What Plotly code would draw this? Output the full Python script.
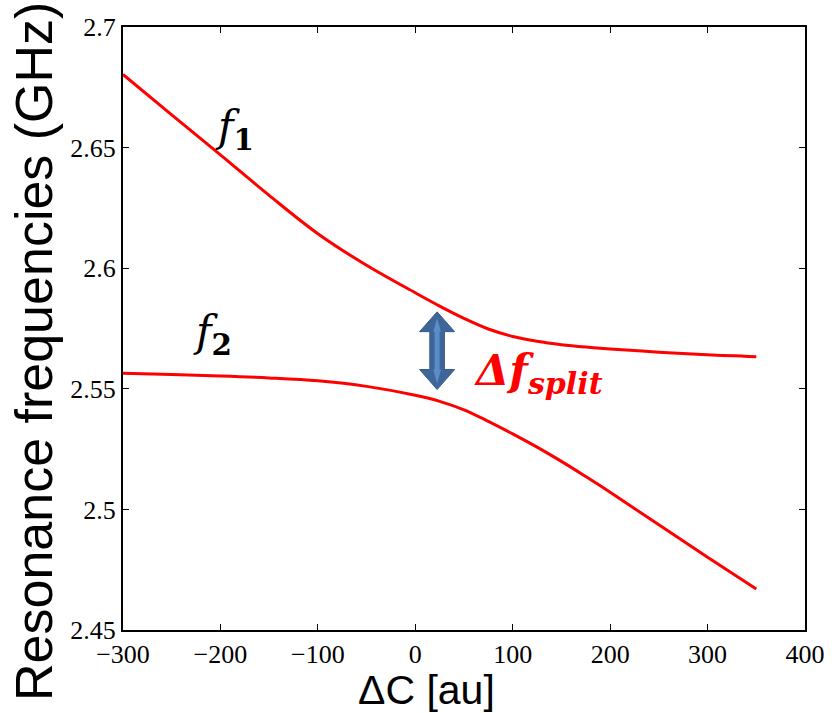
import plotly.graph_objects as go

# Data
dC = [-300, -250, -200, -150, -100, -50, 0, 25, 50, 75, 100, 125, 150, 175, 200, 250, 300, 350]
f1 = [2.6803, 2.6636, 2.6470, 2.6302, 2.6143, 2.6012, 2.5898, 2.5843, 2.5792, 2.5748, 2.5717,
      2.5697, 2.5683, 2.5673, 2.5665, 2.5652, 2.5641, 2.5633]
f2 = [2.5564, 2.5559, 2.5553, 2.5545, 2.5533, 2.5510, 2.5473, 2.5448, 2.5413, 2.5365, 2.5313,
      2.5258, 2.5199, 2.5136, 2.5071, 2.4936, 2.4802, 2.4670]

x_ticks = [-300, -200, -100, 0, 100, 200, 300, 400]
y_ticks = [2.45, 2.5, 2.55, 2.6, 2.65, 2.7]

RED = "#ff0000"
SERIF = "'Liberation Serif', 'Times New Roman', Times, serif"
SANS = "'Liberation Sans', Arial, sans-serif"

W, H = 834, 713
ML, MR, MT, MB = 123, 29, 27, 83
PW, PH = W - ML - MR, H - MT - MB

fig = go.Figure()
for ys in (f1, f2):
    fig.add_trace(go.Scatter(x=dC, y=ys, mode="lines",
                             line=dict(color=RED, width=3, shape="spline", smoothing=1.0),
                             showlegend=False, hoverinfo="skip"))

# double-headed arrow (Δf_split marker)
ax_c, top, bot = 22.4, 2.5819, 2.5497
hw, sw = 18.0, 7.5
hb_top, hb_bot = 2.5737, 2.5580
path = (f"M {ax_c},{top} L {ax_c+hw},{hb_top} L {ax_c+sw},{hb_top} L {ax_c+sw},{hb_bot} "
        f"L {ax_c+hw},{hb_bot} L {ax_c},{bot} L {ax_c-hw},{hb_bot} L {ax_c-sw},{hb_bot} "
        f"L {ax_c-sw},{hb_top} L {ax_c-hw},{hb_top} Z")
fig.add_shape(type="path", path=path, xref="x", yref="y",
              fillcolor="#3f6699", line=dict(color="#385d8a", width=1))
inner = (f"M {ax_c},{top-0.0025} L {ax_c+4},{hb_top} L {ax_c+2.5},{hb_top} L {ax_c+2.5},{hb_bot} "
         f"L {ax_c+4},{hb_bot} L {ax_c},{bot+0.0025} L {ax_c-4},{hb_bot} L {ax_c-2.5},{hb_bot} "
         f"L {ax_c-2.5},{hb_top} L {ax_c-4},{hb_top} Z")
fig.add_shape(type="path", path=inner, xref="x", yref="y",
              fillcolor="#5a8ccc", line=dict(color="#5a8ccc", width=0))

fig.add_annotation(x=-186, y=2.6575, xref="x", yref="y", showarrow=False,
                   text="<i>f</i><b><sub>1</sub></b>",
                   font=dict(family="DejaVu Serif", size=42, color="black"))
fig.add_annotation(x=-208, y=2.5725, xref="x", yref="y", showarrow=False,
                   text="<i>f</i><b><sub>2</sub></b>",
                   font=dict(family="DejaVu Serif", size=42, color="black"))
fig.add_annotation(x=126, y=2.5565, xref="x", yref="y", showarrow=False,
                   text="<b><i>Δf</i></b><b><i><sub>split</sub></i></b>",
                   font=dict(family="DejaVu Serif", size=43, color=RED))

# axis titles (positions given in page pixels, converted to paper fractions)
def px_to_paper(px, py):
    return (px - ML) / PW, (H - py - MB) / PH

tx, ty = px_to_paper(426, 690)
fig.add_annotation(x=tx, y=ty, xref="paper", yref="paper", showarrow=False,
                   xanchor="center", yanchor="middle",
                   text="ΔC [au]", font=dict(family=SANS, size=41, color="black"))
tx, ty = px_to_paper(34, 352)
fig.add_annotation(x=tx, y=ty, xref="paper", yref="paper", showarrow=False, textangle=-90,
                   xanchor="center", yanchor="middle",
                   text="Resonance frequencies (GHz)", font=dict(family=SANS, size=52, color="black"))

axis_common = dict(showline=True, linecolor="black", linewidth=2, mirror="ticks",
                   ticks="inside", ticklen=6, tickwidth=1, tickcolor="black",
                   showgrid=False, zeroline=False,
                   tickfont=dict(family=SERIF, size=26, color="black"))

fig.update_xaxes(range=[-300, 400], tickvals=x_ticks, **axis_common)
fig.update_yaxes(range=[2.45, 2.7], tickvals=y_ticks, ticktext=[f"{v:g}" for v in y_ticks], **axis_common)

fig.update_layout(width=W, height=H, plot_bgcolor="white", paper_bgcolor="white",
                  margin=dict(l=ML, r=MR, t=MT, b=MB, autoexpand=False))

fig.write_html("out.html")
